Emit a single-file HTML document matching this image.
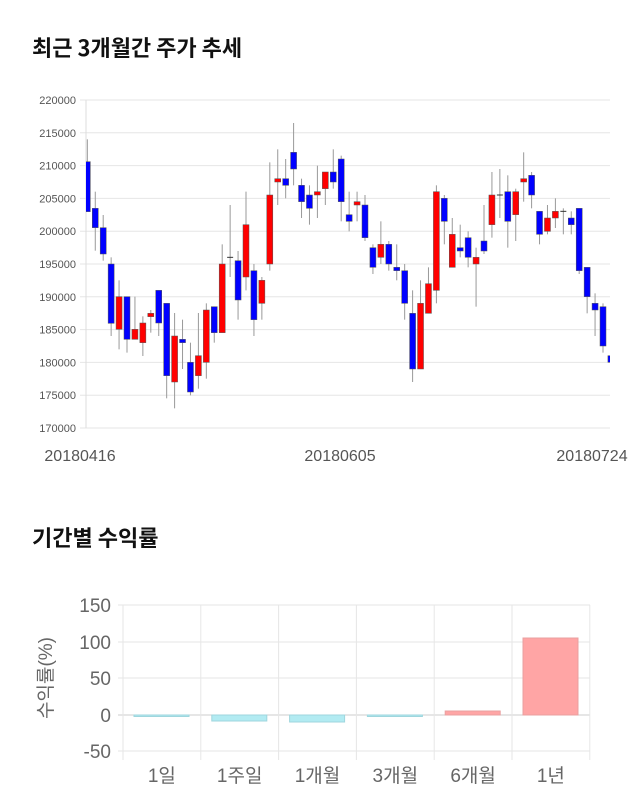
<!DOCTYPE html>
<html><head><meta charset="utf-8"><style>
body{margin:0;background:#fff;width:640px;height:810px;overflow:hidden;font-family:"Liberation Sans","Noto Sans CJK KR",sans-serif}
.t{position:absolute;left:32px;font-size:22px;font-weight:bold;color:#111;font-family:"Noto Sans CJK KR","Liberation Sans",sans-serif}
svg{position:absolute;left:0;top:0}
</style></head><body>
<div class="t" style="top:31px">최근 3개월간 주가 추세</div>
<div class="t" style="top:521px">기간별 수익률</div>
<svg id="s" width="640" height="810" xmlns="http://www.w3.org/2000/svg" font-family="Liberation Sans, Noto Sans CJK KR, sans-serif"></svg>
<script>
var s=document.getElementById('s'),h='';
for(var i=0;i<=10;i++){var y=100+i*32.8;h+='<line x1="80" x2="610" y1="'+y+'" y2="'+y+'" stroke="#e6e6e6"/>';
h+='<text x="76" y="'+(y+4)+'" font-size="11" fill="#555" text-anchor="end">'+(220000-i*5000)+'</text>';}
h+='<line x1="86" x2="86" y1="100" y2="428" stroke="#ddd"/>';
h+='<text x="80" y="461" font-size="16" fill="#555" text-anchor="middle">20180416</text>';
h+='<text x="340" y="461" font-size="16" fill="#555" text-anchor="middle">20180605</text>';
h+='<text x="592" y="461" font-size="16" fill="#555" text-anchor="middle">20180724</text>';
var c=[[215,365,148,365,'b'],[355,413,305,482,'b'],[413,492,375,512,'b'],[522,700,502,738,'b'],[620,718,571,778,'r'],[620,748,620,788,'b'],[718,748,620,748,'r'],[699,758,679,798,'r'],[670,680,660,728,'r'],[601,699,601,738,'b'],[640,857,640,925,'b'],[738,876,669,955,'r'],[748,758,689,837,'b'],[817,906,758,916,'b'],[797,857,669,896,'r'],[660,817,640,866,'r'],[650,728,650,758,'b'],[522,728,463,728,'r'],[502,503,345,561,'d'],[512,630,483,689,'b'],[404,561,305,601,'r'],[542,689,522,738,'b'],[571,640,561,689,'r'],[315,522,217,542,'r'],[266,276,178,345,'r'],[266,286,207,325,'b'],[187,237,99,286,'b'],[286,335,266,384,'b'],[315,355,286,404,'b'],[305,315,227,384,'r'],[246,296,246,345,'r'],[246,276,178,296,'b'],[207,335,197,394,'b'],[374,394,305,424,'b'],
[335,345,305,394,'r'],[345,443,315,453,'b'],[473,532,463,552,'b'],[463,502,394,522,'r'],[463,522,453,542,'b'],[532,542,463,571,'b'],[542,640,522,689,'b'],[670,837,601,876,'b'],[640,837,571,837,'r'],[581,670,532,670,'r'],[305,601,286,640,'r'],[325,394,315,463,'b'],[433,532,384,532,'r'],[473,483,404,502,'b'],[443,502,424,532,'b'],[502,522,473,650,'r'],[453,483,345,492,'b'],[315,404,246,443,'r'],[315,316,237,384,'d'],[305,394,256,473,'b'],[305,374,296,453,'r'],[266,276,187,335,'r'],[256,315,246,355,'b'],[364,433,364,463,'b'],[384,424,345,433,'r'],[364,384,325,414,'r'],[364,365,355,433,'d'],[384,404,364,433,'b'],[355,542,355,552,'b'],[532,620,532,670,'b'],[640,660,610,738,'b'],[650,768,640,788,'b'],[797,817,728,837,'b']];
h+='<clipPath id="cp"><rect x="86" y="90" width="524" height="340"/></clipPath><g clip-path="url(#cp)">';
c.forEach(function(d,i){var x=80+(22+i*23.8)/3,Y=function(v){return 90+v/3};
h+='<line x1="'+x+'" x2="'+x+'" y1="'+Y(d[2])+'" y2="'+Y(d[3])+'" stroke="#999"/>';
if(d[4]=='d')h+='<line x1="'+(x-3)+'" x2="'+(x+3)+'" y1="'+Y(d[0])+'" y2="'+Y(d[0])+'" stroke="#333"/>';
else h+='<rect x="'+(x-3)+'" y="'+Y(d[0])+'" width="6" height="'+Math.max(2,(d[1]-d[0])/3)+'" fill="'+(d[4]=='r'?'#f00':'#00f')+'" stroke="#555" stroke-width="0.5"/>';});
h+='</g>';
var yt=[[150,605],[100,642],[50,678],[0,715],[-50,751]];
yt.forEach(function(t){h+='<line x1="118" x2="590" y1="'+t[1]+'" y2="'+t[1]+'" stroke="'+(t[0]==0?'#ccc':'#e6e6e6')+'"/><text x="111" y="'+(t[1]+7)+'" font-size="19" fill="#666" text-anchor="end">'+t[0]+'</text>';});
for(var k=0;k<7;k++){var x=123+k*77.8;h+='<line x1="'+x+'" x2="'+x+'" y1="605" y2="760" stroke="#e6e6e6"/>';}
var b=[[716,'c','1일'],[721,'c','1주일'],[722,'c','1개월'],[716,'c','3개월'],[711,'p','6개월'],[638,'p','1년']];
b.forEach(function(d,i){var x0=123+i*77.8,x=x0+11,y1=Math.min(d[0],715),y2=Math.max(d[0],715);
h+='<rect x="'+x+'" y="'+y1+'" width="55" height="'+Math.max(1.5,y2-y1)+'" fill="'+(d[1]=='c'?'#b2ebf2':'#ffa5a5')+'" stroke="'+(d[1]=='c'?'#9fd6dd':'#eaa0a0')+'"/>';
h+='<text x="'+(x0+38.9)+'" y="782" font-size="19" fill="#666" text-anchor="middle">'+d[2]+'</text>';});
h+='<text transform="translate(52,678) rotate(-90)" font-size="19" fill="#666" text-anchor="middle">수익률(%)</text>';
s.innerHTML=h;
</script>
</body></html>
